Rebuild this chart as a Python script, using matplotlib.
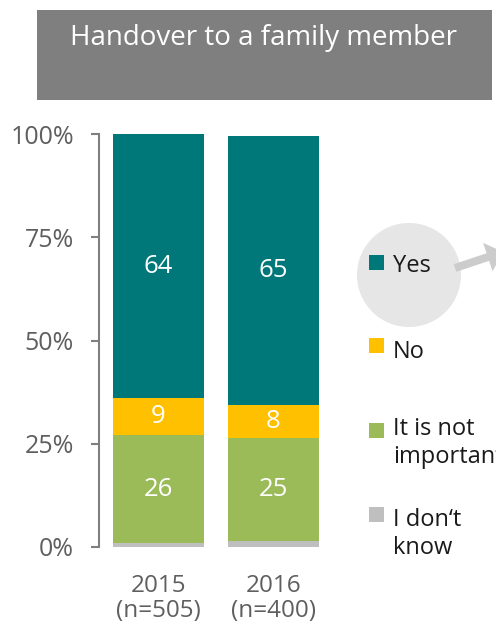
import matplotlib
matplotlib.use("Agg")
import matplotlib.pyplot as plt
from matplotlib.patches import Rectangle, Circle, FancyArrow
from matplotlib.transforms import blended_transform_factory

plt.rcParams['font.family'] = ['Open Sans', 'DejaVu Sans']

# Survey data: share of answers (%) per wave
years = ["2015", "2016"]
sample_sizes = ["(n=505)", "(n=400)"]
dont_know = [1, 1.5]
not_important = [26, 25]
no = [9, 8]
yes = [64, 65]

series_labels = ["Yes", "No", "It is not\nimportant", "I don\u2018t\nknow"]
colors = {"yes": "#00787A", "no": "#FFC000", "not_important": "#9BBB59", "dont_know": "#BFBFBF"}
title = "Handover to a family member"
ytick_values = [0, 25, 50, 75, 100]

W, H = 496, 631
fig = plt.figure(figsize=(W / 100, H / 100), dpi=100)

ax = fig.add_axes([99 / W, 84 / H, 241 / W, 413 / H])
x = list(range(len(years)))
bar_w = 0.79

bottom = [0] * len(years)
stack = [
    (dont_know, colors["dont_know"], False),
    (not_important, colors["not_important"], True),
    (no, colors["no"], True),
    (yes, colors["yes"], True),
]
for vals, col, show in stack:
    ax.bar(x, vals, bar_w, bottom=bottom, color=col, linewidth=0)
    if show:
        for xi, b, v in zip(x, bottom, vals):
            ax.text(xi, b + v / 2, f"{v}", ha="center", va="center",
                    color="white", fontsize=18.5)
    bottom = [b + v for b, v in zip(bottom, vals)]

ax.set_xlim(-0.517, 1.578)
ax.set_ylim(0, 100)
ax.set_yticks(ytick_values)
ax.set_yticklabels([f"{v}%" for v in ytick_values], fontsize=18, color="#5f5f5f")
ax.set_xticks([])
ax.tick_params(axis="y", direction="out", length=6, width=1.5, color="#7f7f7f", pad=12)
for s in ["top", "right", "bottom"]:
    ax.spines[s].set_visible(False)
ax.spines["left"].set_color("#7f7f7f")
ax.spines["left"].set_linewidth(1.5)
ax.spines["left"].set_bounds(0, 100)

# Overlay in pixel coordinates for the header box and the legend
ov = fig.add_axes([0, 0, 1, 1], zorder=-1)
ov.set_xlim(0, W)
ov.set_ylim(H, 0)
ov.axis("off")

# Two-line category labels under each bar
cat_tr = blended_transform_factory(ax.transData, ov.transData)
for xi, yr, n in zip(x, years, sample_sizes):
    fig.text(xi, 592, yr, transform=cat_tr, ha="center", va="baseline",
             fontsize=17.5, color="#5f5f5f")
    fig.text(xi, 617, n, transform=cat_tr, ha="center", va="baseline",
             fontsize=17.5, color="#5f5f5f")

ov.add_patch(Rectangle((37, 10), 455, 90, color="#7f7f7f", linewidth=0))
ov.text(263, 45, title, ha="center", va="baseline", color="white", fontsize=20)

ov.add_patch(Circle((409, 275), 52, color="#e6e6e6", linewidth=0))
ov.add_patch(FancyArrow(455, 268, 48, -16, width=8, head_width=30, head_length=16,
                        length_includes_head=True, color="#cccccc", linewidth=0))

legend_colors = [colors["yes"], colors["no"], colors["not_important"], colors["dont_know"]]
square_top = [255, 338, 423, 507]
text_base = [272, 358, 435, 526]
for lab, col, sq, tb in zip(series_labels, legend_colors, square_top, text_base):
    ov.add_patch(Rectangle((369, sq), 15, 15, color=col, linewidth=0))
    for i, line in enumerate(lab.split("\n")):
        ov.text(393, tb + 28 * i, line, ha="left", va="baseline", color="#1a1a1a",
                fontsize=17)

fig.savefig("out.png", dpi=100)
